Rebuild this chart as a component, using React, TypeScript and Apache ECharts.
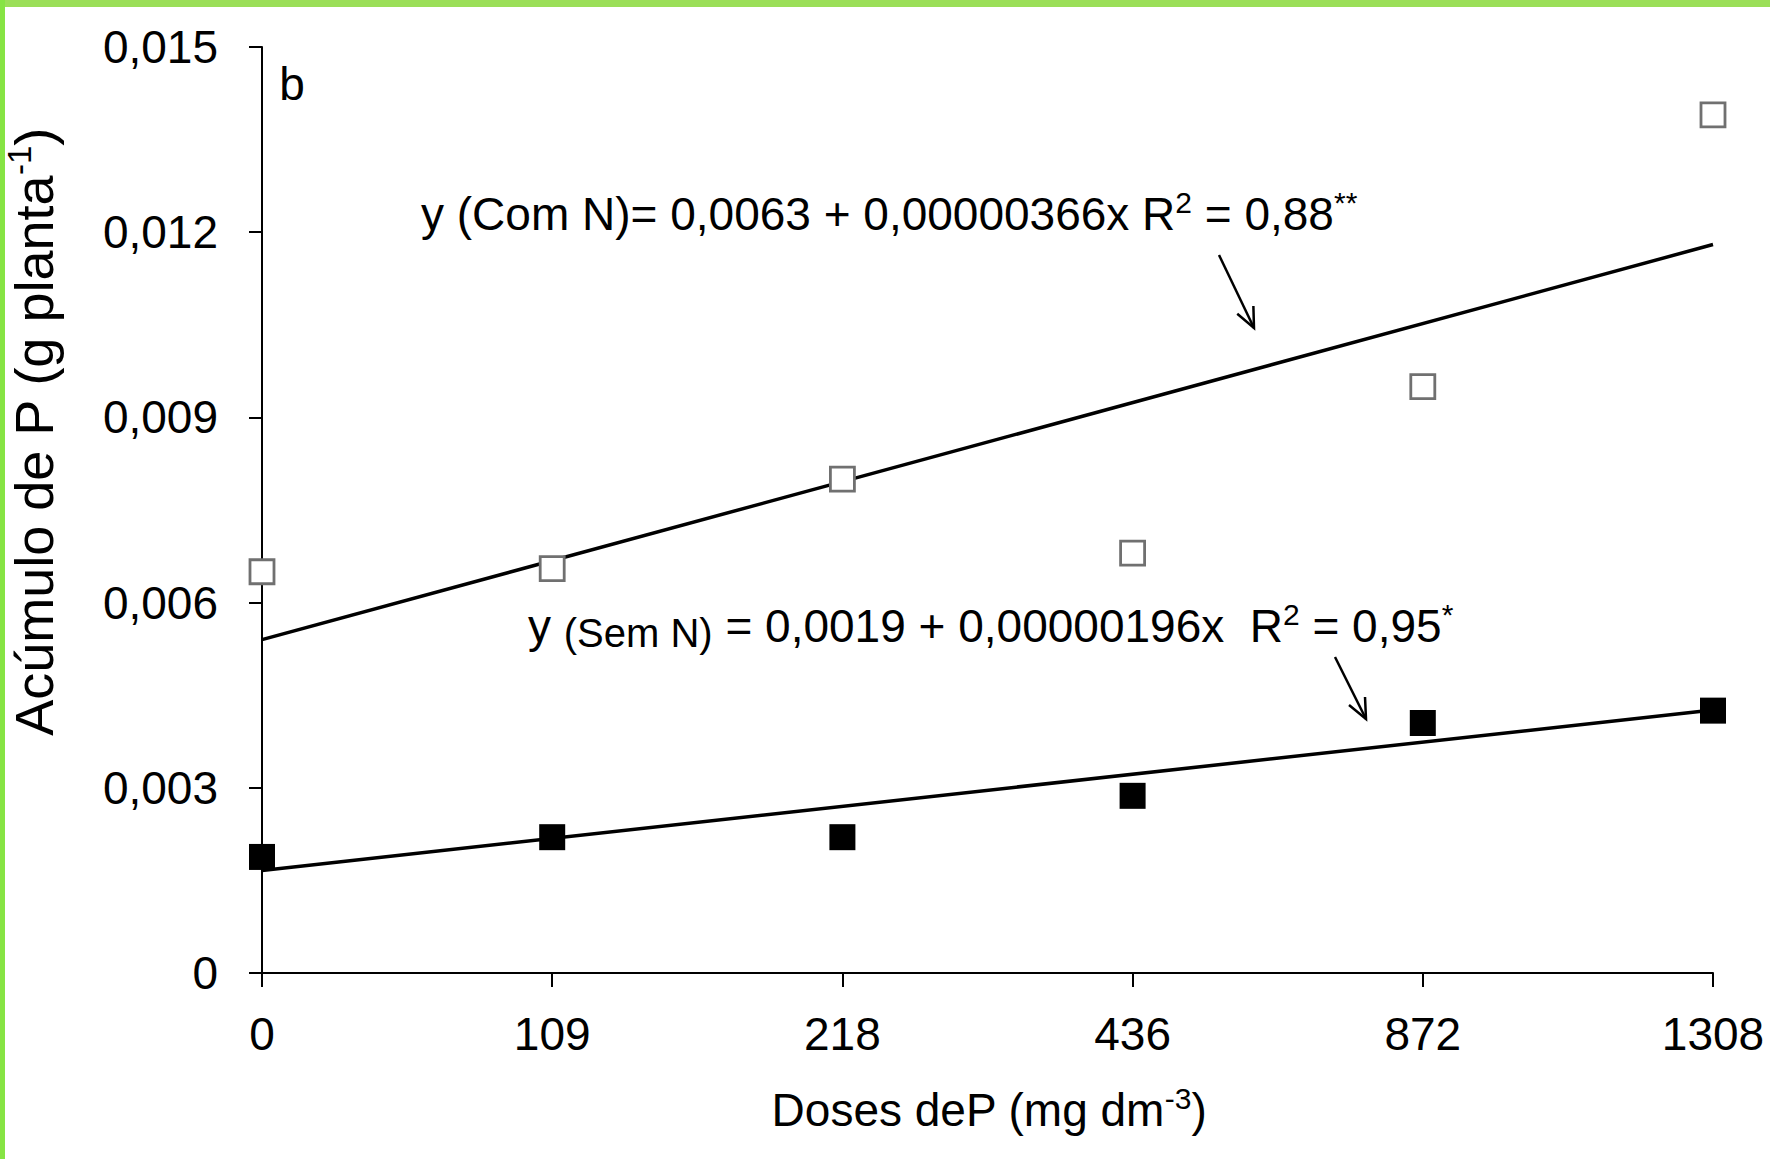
import React, { useEffect, useRef } from "react";
import * as echarts from "echarts";

const doses = ["0", "109", "218", "436", "872", "1308"];
const comN = [0.0065, 0.00655, 0.0080, 0.0068, 0.0095, 0.0139];
const semN = [0.00188, 0.0022, 0.0022, 0.00287, 0.00405, 0.00425];
const comNTrend = [0.0054, 0.0118];
const semNTrend = [0.00166, 0.00426];
const yTicks = { min: 0, max: 0.015, interval: 0.003 };

const FONT = "Liberation Sans";

function arrow(x1: number, y1: number, x2: number, y2: number) {
  const dx = x2 - x1, dy = y2 - y1;
  const len = Math.sqrt(dx * dx + dy * dy);
  const ux = dx / len, uy = dy / len;
  const hl = 22, ang = (24 * Math.PI) / 180;
  const c = Math.cos(ang), s = Math.sin(ang);
  const l1x = x2 - hl * (ux * c - uy * s), l1y = y2 - hl * (uy * c + ux * s);
  const l2x = x2 - hl * (ux * c + uy * s), l2y = y2 - hl * (uy * c - ux * s);
  return [
    { type: "line", shape: { x1, y1, x2, y2 }, style: { stroke: "#000", lineWidth: 2.5 } },
    { type: "polyline", shape: { points: [[l1x, l1y], [x2, y2], [l2x, l2y]] }, style: { stroke: "#000", lineWidth: 2.5, fill: null } },
  ];
}

export default function App() {
  const ref = useRef<HTMLDivElement>(null);
  useEffect(() => {
    const chart = echarts.init(ref.current!, null, { renderer: "svg" });
    const last = doses.length - 1;
    chart.setOption({
      animation: false,
      backgroundColor: "#fff",
      grid: { left: 262, right: 57, top: 47, bottom: 186, containLabel: false },
      xAxis: {
        type: "category",
        data: doses,
        boundaryGap: false,
        axisLine: { lineStyle: { color: "#000", width: 2 } },
        axisTick: { show: true, length: 14, lineStyle: { color: "#000", width: 2 } },
        axisLabel: { color: "#000", fontSize: 46, fontFamily: FONT, margin: 38 },
        splitLine: { show: false },
      },
      yAxis: {
        type: "value",
        min: yTicks.min,
        max: yTicks.max,
        interval: yTicks.interval,
        axisLine: { show: true, lineStyle: { color: "#000", width: 2 } },
        axisTick: { show: true, length: 13, lineStyle: { color: "#000", width: 2 } },
        axisLabel: {
          color: "#000",
          fontSize: 46,
          fontFamily: FONT,
          margin: 44,
          formatter: (v: number) => (v === 0 ? "0" : v.toFixed(3).replace(".", ",")),
        },
        splitLine: { show: false },
      },
      series: [
        {
          type: "line",
          data: [[0, comNTrend[0]], [last, comNTrend[1]]],
          symbol: "none",
          lineStyle: { color: "#000", width: 3.5 },
          z: 1,
        },
        {
          type: "line",
          data: [[0, semNTrend[0]], [last, semNTrend[1]]],
          symbol: "none",
          lineStyle: { color: "#000", width: 3.5 },
          z: 1,
        },
        {
          type: "scatter",
          data: comN,
          symbol: "rect",
          symbolSize: 24,
          itemStyle: { color: "#fff", borderColor: "#707070", borderWidth: 2.8, opacity: 1 },
          z: 3,
        },
        {
          type: "scatter",
          data: semN,
          symbol: "rect",
          symbolSize: 26,
          itemStyle: { color: "#000", opacity: 1 },
          z: 3,
        },
      ],
      graphic: [
        { type: "rect", shape: { x: 0, y: 0, width: 1770, height: 7 }, style: { fill: "#9bdf58" }, z: 10 },
        { type: "rect", shape: { x: 0, y: 0, width: 5, height: 1159 }, style: { fill: "#86e444" }, z: 10 },
        {
          type: "text", x: 292, y: 84,
          style: { text: "b", fontSize: 46, fontFamily: FONT, fill: "#000", align: "center", verticalAlign: "middle" },
        },
        {
          type: "text", x: 421, y: 214,
          style: {
            text: "y (Com N)= 0,0063 + 0,00000366x R{sup|2} = 0,88{sup|**}",
            fontSize: 46, fontFamily: FONT, fill: "#000", align: "left", verticalAlign: "middle",
            rich: {
              sup: { fontSize: 30, fontFamily: FONT, fill: "#000", verticalAlign: "top", lineHeight: 54 },
            },
            lineHeight: 54,
          },
        },
        {
          type: "text", x: 528, y: 626,
          style: {
            text: "y {sem|(Sem N)} = 0,0019 + 0,00000196x  R{sup|2} = 0,95{sup|*}",
            fontSize: 46, fontFamily: FONT, fill: "#000", align: "left", verticalAlign: "middle",
            rich: {
              sup: { fontSize: 30, fontFamily: FONT, fill: "#000", verticalAlign: "top", lineHeight: 54 },
              sem: { fontSize: 40, fontFamily: FONT, fill: "#000", verticalAlign: "bottom", lineHeight: 54 },
            },
            lineHeight: 54,
          },
        },
        ...arrow(1219, 255, 1254, 328),
        ...arrow(1335, 657, 1366, 719),
        {
          type: "text", x: 34, y: 432, rotation: Math.PI / 2,
          style: {
            text: "Acúmulo de P (g planta{sup|-1})",
            fontSize: 54, fontFamily: FONT, fill: "#000", align: "center", verticalAlign: "middle",
            lineHeight: 62,
            rich: { sup: { fontSize: 33, fontFamily: FONT, fill: "#000", verticalAlign: "top", lineHeight: 62 } },
          },
        },
        {
          type: "text", x: 989, y: 1110,
          style: {
            text: "Doses deP (mg dm{sup|-3})",
            fontSize: 46, fontFamily: FONT, fill: "#000", align: "center", verticalAlign: "middle",
            lineHeight: 54,
            rich: { sup: { fontSize: 30, fontFamily: FONT, fill: "#000", verticalAlign: "top", lineHeight: 54 } },
          },
        },
      ],
    });
    return () => chart.dispose();
  }, []);
  return (
    <div
      ref={ref}
      style={{ position: "absolute", left: 0, top: 0, width: 1770, height: 1159, background: "#fff" }}
    />
  );
}
